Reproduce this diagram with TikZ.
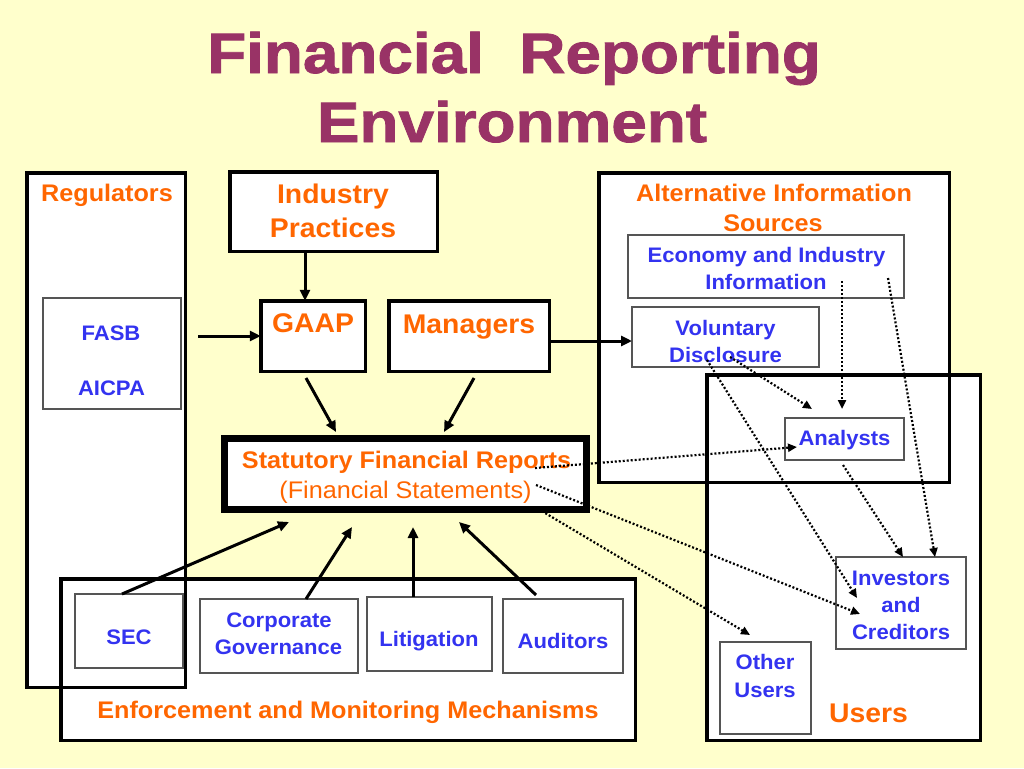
\documentclass[tikz,border=0pt]{standalone}
\usepackage{fontspec}
\setmainfont{Liberation Sans}[FakeStretch=1.05]
\newfontfamily\titlefont{Liberation Sans}[FakeStretch=1.12,FakeBold=1.5]
\usetikzlibrary{arrows.meta}
\definecolor{bgyellow}{RGB}{255,255,204}
\definecolor{titlepurple}{RGB}{153,51,102}
\definecolor{lblorange}{RGB}{255,102,0}
\definecolor{lblblue}{RGB}{51,51,240}
\definecolor{thingray}{RGB}{85,85,85}
\newcommand{\mkbx}[6]{\node[#1, minimum width={#5-#3}, minimum height={#6-#4}] (#2) at ({(#3+#5)/2},{(#4+#6)/2}) {};}
\tikzset{
  bigfill/.style={draw=none, fill=white, inner sep=0pt, outer sep=0pt},
  thickbox/.style={draw=black, line width=3.5pt, fill=white, inner sep=0pt, outer sep=0pt},
  statbox/.style={draw=black, line width=7pt, fill=white, inner sep=0pt, outer sep=0pt},
  thinbox/.style={draw=thingray, line width=1.3pt, fill=white, inner sep=0pt, outer sep=0pt},
  frame/.style={draw=black, line width=3.5pt},
  olab/.style={text=lblorange, font=\bfseries\fontsize{24}{24}\selectfont, anchor=base, inner sep=0pt},
  olabbig/.style={text=lblorange, font=\bfseries\fontsize{27}{27}\selectfont, anchor=base, inner sep=0pt},
  olabreg/.style={text=lblorange, font=\fontsize{24}{24}\selectfont, anchor=base, inner sep=0pt},
  blab/.style={text=lblblue, font=\bfseries\fontsize{21}{21}\selectfont, anchor=base, inner sep=0pt},
  ttl/.style={text=titlepurple, font=\titlefont\bfseries\fontsize{57}{57}\selectfont, anchor=base, inner sep=0pt},
  solidarr/.style={draw=black, line width=3pt, -{Triangle[length=11pt,width=10pt]}},
  dotarr/.style={draw=black, line width=2.2pt, dash pattern=on 2pt off 2pt, -{Triangle[length=9pt,width=8pt]}}
}
\begin{document}
\begin{tikzpicture}[x=1pt,y=-1pt]
\useasboundingbox (0,0) rectangle (1024,768);
\fill[bgyellow] (0,0) rectangle (1024,768);

% title
\node[ttl] (title1) at (514,73) {Financial\ \ Reporting};
\node[ttl] (title2) at (512,142) {Environment};

% large group boxes: fills first
\mkbx{bigfill}{reg}{26.75}{172.75}{185.25}{687.25}
\mkbx{bigfill}{enf}{60.75}{578.75}{635.25}{740.25}
\mkbx{bigfill}{alt}{598.75}{172.75}{949.25}{482.25}
\mkbx{bigfill}{users}{706.75}{374.75}{980.25}{740.25}
% then their outlines
\draw[frame] (reg.north west) rectangle (reg.south east);
\draw[frame] (enf.north west) rectangle (enf.south east);
\draw[frame] (alt.north west) rectangle (alt.south east);
\draw[frame] (users.north west) rectangle (users.south east);

% thick boxes
\mkbx{thickbox}{ind}{229.75}{171.75}{437.25}{251.25}
\mkbx{thickbox}{gaap}{260.75}{300.75}{365.25}{371.25}
\mkbx{thickbox}{mgr}{388.75}{300.75}{549.25}{371.25}
\mkbx{statbox}{stat}{224.5}{438.5}{586.5}{509.5}

% thin boxes
\mkbx{thinbox}{fasb}{43}{298}{181}{409}
\mkbx{thinbox}{econ}{628}{235}{904}{298}
\mkbx{thinbox}{vol}{632}{307}{819}{367}
\mkbx{thinbox}{ana}{785}{418}{904}{460}
\mkbx{thinbox}{inv}{836}{557}{966}{649}
\mkbx{thinbox}{oth}{720}{642}{811}{734}
\mkbx{thinbox}{sec}{75}{594}{183}{668}
\mkbx{thinbox}{corp}{200}{599}{358}{673}
\mkbx{thinbox}{lit}{367}{597}{492}{671}
\mkbx{thinbox}{aud}{503}{599}{623}{673}

% labels
\node[olab] (tReg) at (107,201) {Regulators};
\node[olabbig] (tInd1) at (333,203) {Industry};
\node[olabbig] (tInd2) at (333,237) {Practices};
\node[olabbig] (tGaap) at (313,332) {GAAP};
\node[olabbig] (tMgr) at (469,333) {Managers};
\node[blab] (tFasb) at (111,340) {FASB};
\node[blab] (tAicpa) at (111.5,395) {AICPA};
\node[olab] (tStat1) at (406.5,468) {Statutory Financial Reports};
\node[olabreg] (tStat2) at (405.5,498) {(Financial Statements)};
\node[olab] (tAlt1) at (774,201) {Alternative Information};
\node[olab] (tAlt2) at (773,231) {Sources};
\node[blab] (tEcon1) at (766.5,262) {Economy and Industry};
\node[blab] (tEcon2) at (766,289) {Information};
\node[blab] (tVol1) at (725.5,335) {Voluntary};
\node[blab] (tVol2) at (725.5,362) {Disclosure};
\node[blab] (tAna) at (844.5,445) {Analysts};
\node[blab] (tInv1) at (901,585) {Investors};
\node[blab] (tInv2) at (901,612) {and};
\node[blab] (tInv3) at (901,639) {Creditors};
\node[blab] (tOth1) at (765,669) {Other};
\node[blab] (tOth2) at (765,697) {Users};
\node[olabbig] (tUsers) at (868.5,722) {Users};
\node[olab] (tEnf) at (348,718) {Enforcement and Monitoring Mechanisms};
\node[blab] (tSec) at (129,644) {SEC};
\node[blab] (tCorp1) at (279,627) {Corporate};
\node[blab] (tCorp2) at (278.5,654) {Governance};
\node[blab] (tLit) at (429,646) {Litigation};
\node[blab] (tAud) at (563,648) {Auditors};

% connector end points
\coordinate (regout) at (198,336);
\coordinate (indout) at (305,251.25);
\coordinate (gaapout) at (306,378);
\coordinate (statinA) at (336,432);
\coordinate (mgrout) at (474,378);
\coordinate (statinB) at (444,432);
\coordinate (secout) at (122,594);
\coordinate (statinC) at (289,522);
\coordinate (corpout) at (306,599);
\coordinate (statinD) at (352,527);
\coordinate (litout) at (413,597);
\coordinate (statinE) at (413,527);
\coordinate (audout) at (536,595);
\coordinate (statinF) at (459,522);

\coordinate (statoutA) at (535,468);
\coordinate (statoutB) at (536,485);
\coordinate (statoutC) at (535,507);
\coordinate (anainA) at (797,447);
\coordinate (invinA) at (860,614);
\coordinate (othin) at (750,635);
\coordinate (voloutA) at (730,357);
\coordinate (anainB) at (812,409);
\coordinate (voloutB) at (707,360);
\coordinate (invinB) at (857,598);
\coordinate (econoutA) at (842,281);
\coordinate (anainC) at (842,409);
\coordinate (econoutB) at (888,278);
\coordinate (invinC) at (935,557);
\coordinate (anaout) at (843,465);
\coordinate (invinD) at (903,557);

% solid connectors
\draw[solidarr] (regout) -- (regout -| gaap.west);
\draw[solidarr] (indout) -- (indout |- gaap.north);
\draw[solidarr] (gaapout) -- (statinA);
\draw[solidarr] (mgrout) -- (statinB);
\draw[solidarr] (mgr.east |- 0,341) -- (vol.west |- 0,341);
\draw[solidarr] (secout) -- (statinC);
\draw[solidarr] (corpout) -- (statinD);
\draw[solidarr] (litout) -- (statinE);
\draw[solidarr] (audout) -- (statinF);

% dotted connectors
\draw[dotarr] (statoutA) -- (anainA);
\draw[dotarr] (statoutB) -- (invinA);
\draw[dotarr] (statoutC) -- (othin);
\draw[dotarr] (voloutA) -- (anainB);
\draw[dotarr] (voloutB) -- (invinB);
\draw[dotarr] (econoutA) -- (anainC);
\draw[dotarr] (econoutB) -- (invinC);
\draw[dotarr] (anaout) -- (invinD);
\end{tikzpicture}
\end{document}
